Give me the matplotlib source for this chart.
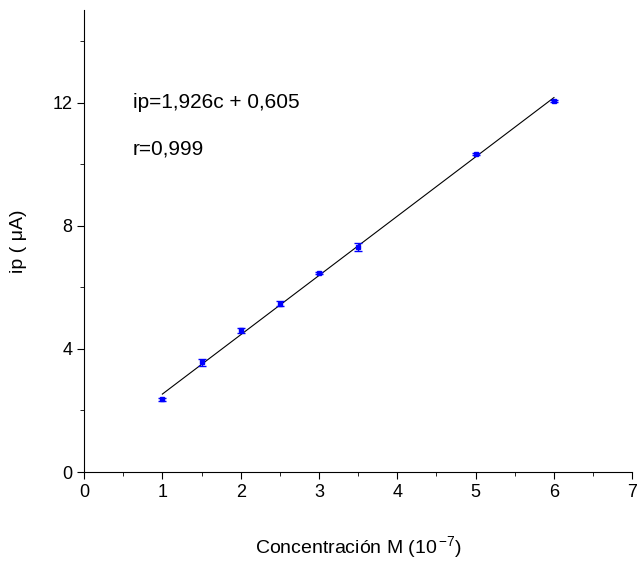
import matplotlib.pyplot as plt
from matplotlib.ticker import MultipleLocator

plt.rcParams["font.family"] = ["Liberation Sans", "DejaVu Sans"]

# data
conc = [1.0, 1.5, 2.0, 2.5, 3.0, 3.5, 5.0, 6.0]
ip = [2.36, 3.56, 4.60, 5.47, 6.47, 7.31, 10.32, 12.04]
ip_err = [0.04, 0.12, 0.07, 0.07, 0.04, 0.12, 0.04, 0.03]

slope = 1.926
intercept = 0.605
fit_x = [conc[0], conc[-1]]

fig = plt.figure(figsize=(6.39, 5.63), dpi=100)
ax = fig.add_axes([0.1315, 0.1616, 0.858, 0.8204])

ax.plot(fit_x, [slope * x + intercept for x in fit_x], color="black", linewidth=0.8)
ax.errorbar(
    conc,
    ip,
    yerr=ip_err,
    fmt="s",
    color="blue",
    markersize=3,
    capsize=3,
    elinewidth=1,
    capthick=1,
)

ax.text(0.62, 12.0, "ip=1,926c + 0,605", fontsize=15, va="center")
ax.text(0.62, 10.5, "r=0,999", fontsize=15, va="center")

ax.set_xlim(0, 7)
ax.set_ylim(0, 15)
ax.xaxis.set_major_locator(MultipleLocator(1))
ax.xaxis.set_minor_locator(MultipleLocator(0.5))
ax.yaxis.set_major_locator(MultipleLocator(4))
ax.yaxis.set_minor_locator(MultipleLocator(2))
ax.tick_params(which="major", direction="out", length=5, labelsize=13)
ax.tick_params(which="minor", direction="out", length=3)

ax.spines["top"].set_visible(False)
ax.spines["right"].set_visible(False)

ax.set_xlabel("Concentración M (10$^{\\,\\mathregular{-7}}$)", fontsize=14, labelpad=24)
ax.set_ylabel("ip ( μA)", fontsize=14, labelpad=18)

fig.savefig("out.png", dpi=100)
